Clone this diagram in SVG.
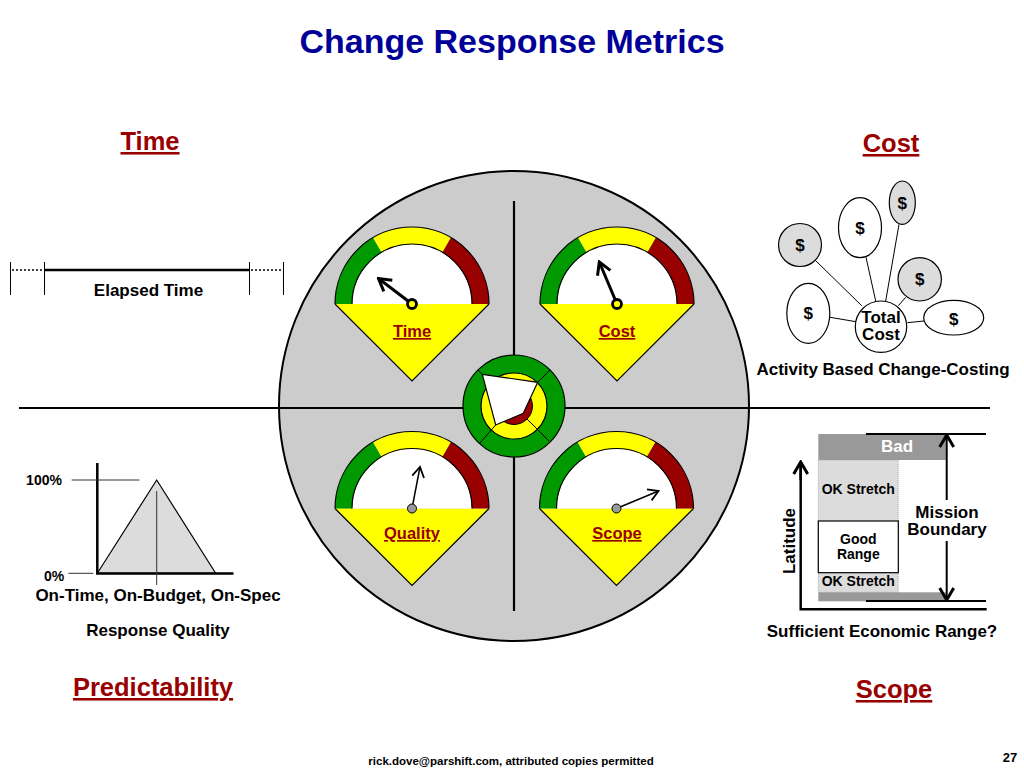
<svg xmlns="http://www.w3.org/2000/svg" width="1024" height="768" viewBox="0 0 1024 768">
<style>
text{font-family:"Liberation Sans",Arial,sans-serif;font-weight:bold;text-anchor:middle;fill:#000}
.head{font-size:25.500px;fill:#990000;text-decoration:underline}
.gl{font-size:16.500px;fill:#990000;text-decoration:underline}
.t16{font-size:17px}
.t14{font-size:14px}
.ln{stroke:#000;stroke-width:1;fill:none}
.ax{stroke:#000;stroke-width:2.5;fill:none}
.ell{stroke:#000;stroke-width:1.2;fill:#fff}
.gy{stroke:#000;stroke-width:1.2;fill:#dcdcdc}
.gr{fill:#dcdcdc}
</style>
<defs>
<marker id="open" viewBox="-12 -8 14 16" markerWidth="14" markerHeight="16" markerUnits="userSpaceOnUse" refX="0" refY="0" orient="auto">
<path d="M-10 -6L0 0L-10 6" fill="none" stroke="#000" stroke-width="1.800"/>
</marker>
<marker id="openB" viewBox="-16 -10 18 20" markerWidth="18" markerHeight="20" markerUnits="userSpaceOnUse" refX="0" refY="0" orient="auto">
<path d="M-12 -7L0 0L-12 7" fill="none" stroke="#000" stroke-width="3"/>
</marker>
<g id="gauge">
<path d="M-77 0L0 77L77 0Z" fill="#ffff00"/>
<path d="M-77 0L0 77L77 0" fill="none" stroke="#000" stroke-width="1.200"/>
<path d="M-60 0A60 60 0 0 1 60 0Z" fill="#fff"/>
<path d="M-77 0A77 77 0 0 1 -39 -66.400L-30.300 -51.600A60 60 0 0 0 -60 0Z" fill="#009900"/>
<path d="M-39 -66.400A77 77 0 0 1 39 -66.400L30.300 -51.600A60 60 0 0 0 -30.300 -51.600Z" fill="#ffff00"/>
<path d="M39 -66.400A77 77 0 0 1 77 0L60 0A60 60 0 0 0 30.300 -51.600Z" fill="#990000"/>
<path d="M-77 0A77 77 0 0 1 77 0M-60 0A60 60 0 0 1 60 0" fill="none" stroke="#000" stroke-width="1.200"/>
</g>
</defs>
<rect width="1024" height="768" fill="#fff"/>
<text x="512" y="53" style="font-size:34px;fill:#000099">Change Response Metrics</text>
<circle id="wheel" cx="514" cy="406" r="235" fill="#cccccc" stroke="#000" stroke-width="2"/>
<g id="axes">
<path d="M19 408H990M514 201V611" stroke="#000" stroke-width="2.200" fill="none"/>
</g>
<g id="gauge-time">
<use href="#gauge" x="412" y="304"/>
<path d="M412 304L378.500 278.500" stroke="#000" stroke-width="3" fill="none" marker-end="url(#openB)"/>
<circle cx="412" cy="304" r="4.500" fill="#ffff00" stroke="#000" stroke-width="2.800"/>
<text class="gl" x="412" y="337">Time</text>
</g>
<g id="gauge-cost">
<use href="#gauge" x="617" y="304"/>
<path d="M617 304L599.300 262" stroke="#000" stroke-width="3" fill="none" marker-end="url(#openB)"/>
<circle cx="617" cy="304" r="4.500" fill="#ffff00" stroke="#000" stroke-width="2.800"/>
<text class="gl" x="617" y="337">Cost</text>
</g>
<g id="gauge-quality">
<use href="#gauge" x="412" y="508.500"/>
<path d="M412 508.500L420 467" stroke="#000" stroke-width="1.500" fill="none" marker-end="url(#open)"/>
<circle cx="412" cy="508.500" r="4.500" fill="#999999" stroke="#000" stroke-width="1"/>
<text class="gl" x="412" y="539">Quality</text>
</g>
<g id="gauge-scope">
<use href="#gauge" x="616.500" y="508.500"/>
<path d="M616.500 508.500L658.500 491" stroke="#000" stroke-width="1.500" fill="none" marker-end="url(#open)"/>
<circle cx="616.500" cy="508.500" r="4.500" fill="#999999" stroke="#000" stroke-width="1"/>
<text class="gl" x="617" y="539">Scope</text>
</g>
<g id="center-dial">
<circle cx="514" cy="406" r="51" fill="#009900" stroke="#000" stroke-width="1.200"/>
<circle cx="514" cy="406" r="33" fill="#ffff00" stroke="#000" stroke-width="1.200"/>
<circle cx="514" cy="406" r="18.500" fill="#990000" stroke="#000" stroke-width="1"/>
<path d="M478 370L500 392M550 370L528 392M479 444L500 420M549 441L527 419" stroke="#000" stroke-width="1" fill="none"/>
<path d="M482.300 374.300L537.700 382.300L523.300 413.300L495.700 425Z" fill="#fff" stroke="#000" stroke-width="1.200"/>
</g>
<g id="time-panel">
<text class="head" x="150" y="150">Time</text>
<path d="M10.500 262V295M44.500 262V295M249.500 262V295M283.500 262V295" stroke="#000" stroke-width="1" fill="none"/>
<path d="M45 270H250" stroke="#000" stroke-width="2.500" fill="none"/>
<path d="M12 270H44M251 270H283" stroke="#000" stroke-width="1.500" stroke-dasharray="2 2" fill="none"/>
<text class="t16" x="148.500" y="296">Elapsed Time</text>
</g>
<g id="cost-panel">
<text class="head" x="891" y="152">Cost</text>
<path class="ln" d="M815.700 260.700L861.700 305.700M866 257.300L875.700 301M899 224.300L885.700 301M905.700 297.300L898.300 305.700M830 317.300L856 321.700M907.300 322.700L924 321"/>
<ellipse class="gy" cx="800" cy="245" rx="21.500" ry="21.500"/>
<ellipse class="ell" cx="860" cy="227.700" rx="21.500" ry="30"/>
<ellipse class="gy" cx="902.300" cy="202.700" rx="13" ry="21.700"/>
<ellipse class="gy" cx="919.700" cy="279.300" rx="21.700" ry="21.700"/>
<ellipse class="ell" cx="808.300" cy="313.300" rx="21.500" ry="30"/>
<ellipse class="ell" cx="953.700" cy="317.700" rx="30" ry="17.300"/>
<circle class="ell" cx="881" cy="326.700" r="25.700"/>
<text class="t16" x="800" y="251">$</text>
<text class="t16" x="860" y="234">$</text>
<text class="t16" x="902.300" y="209">$</text>
<text class="t16" x="919.700" y="285">$</text>
<text class="t16" x="808.300" y="319">$</text>
<text class="t16" x="953.700" y="325">$</text>
<text class="t16" x="881" y="323">Total</text>
<text class="t16" x="881" y="340">Cost</text>
<text class="t16" x="883" y="375">Activity Based Change-Costing</text>
</g>
<g id="predictability-panel">
<path d="M215.700 573.300L156.700 480L97.300 573.300Z" class="gr" stroke="#000" stroke-width="1.200"/>
<path d="M97.300 463V573.500H233.500" class="ax"/>
<path d="M71.700 480H139.300M68.300 573.300H93.300M156.700 491V585" stroke="#333" stroke-width="1" fill="none"/>
<text class="t14" x="44" y="485">100%</text>
<text class="t14" x="54" y="581">0%</text>
<text class="t16" x="158" y="601">On-Time, On-Budget, On-Spec</text>
<text class="t16" x="158" y="636">Response Quality</text>
<text class="head" x="153" y="696">Predictability</text>
</g>
<g id="scope-panel">
<rect x="818.300" y="460" width="80" height="132.300" class="gr" stroke="#888" stroke-width="0.600" stroke-dasharray="1 1"/>
<rect x="818.300" y="434" width="127.500" height="26" fill="#999999"/>
<rect x="818.300" y="592.300" width="127.500" height="9" fill="#999999"/>
<rect x="818.300" y="521" width="80" height="51.700" fill="#fff" stroke="#000" stroke-width="1.200"/>
<path d="M866 434H986M866 601H986" class="ax" style="stroke-width:2"/>
<path d="M800.700 462V609.300H986.700" class="ax"/>
<path d="M800.700 480V462" stroke="#000" stroke-width="2.500" fill="none" marker-end="url(#openB)"/>
<path d="M946.700 500V435" stroke="#000" stroke-width="2" fill="none" marker-end="url(#openB)"/>
<path d="M946.700 540V600" stroke="#000" stroke-width="2" fill="none" marker-end="url(#openB)"/>
<rect x="906" y="503" width="82" height="38" fill="#fff"/>
<text x="897" y="452" class="t16" style="fill:#fff">Bad</text>
<text class="t14" x="858.300" y="494">OK Stretch</text>
<text class="t14" x="858.300" y="586">OK Stretch</text>
<text class="t14" x="858.300" y="544">Good</text>
<text class="t14" x="858.300" y="559">Range</text>
<text class="t16" x="947" y="518">Mission</text>
<text class="t16" x="947" y="535">Boundary</text>
<text class="t16" transform="translate(794.500 541) rotate(-90)">Latitude</text>
<text class="t16" x="882" y="637">Sufficient Economic Range?</text>
<text class="head" x="894" y="698">Scope</text>
</g>
<text x="511" y="765" style="font-size:11.500px">rick.dove@parshift.com, attributed copies permitted</text>
<text x="1010" y="762" style="font-size:13px">27</text>
</svg>
